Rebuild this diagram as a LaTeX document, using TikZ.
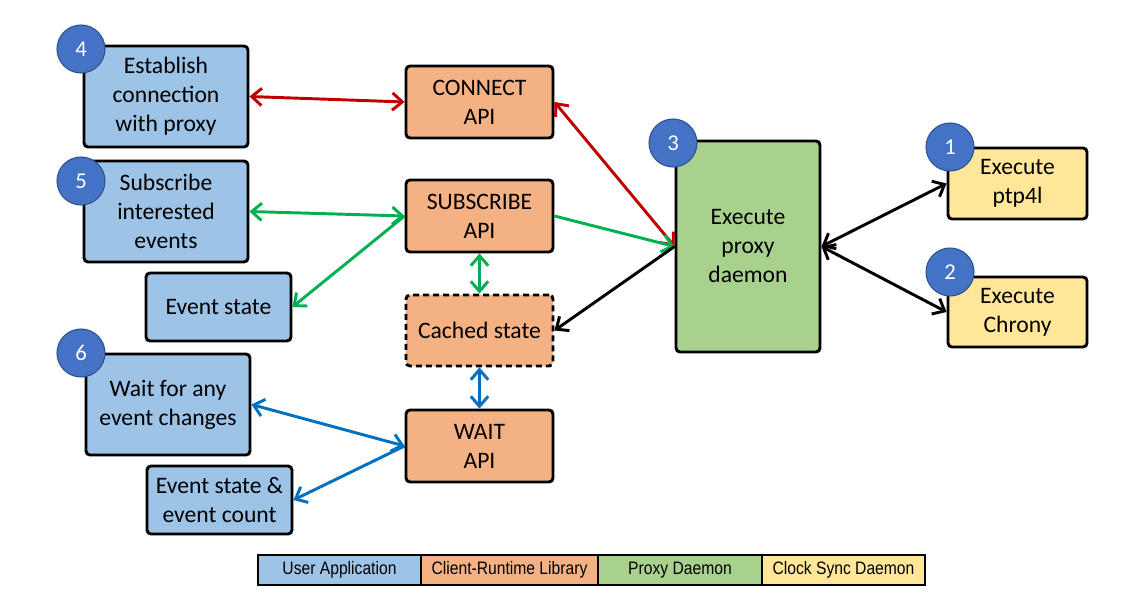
\documentclass[tikz,border=0pt]{standalone}
\usepackage{fontspec}
\setmainfont{Carlito}
\newfontfamily\legfont{Liberation Sans}[FakeStretch=0.87]
\usetikzlibrary{arrows.meta}
\definecolor{ublue}{HTML}{9DC3E6}
\definecolor{uorange}{HTML}{F4B183}
\definecolor{ugreen}{HTML}{A9D18E}
\definecolor{uyellow}{HTML}{FFE699}
\definecolor{cfill}{HTML}{4472C4}
\definecolor{cline}{HTML}{2F528F}
\definecolor{ared}{HTML}{C00000}
\definecolor{agreen}{HTML}{00B050}
\definecolor{ablue}{HTML}{0070C0}
\tikzset{
  box/.style={draw=black, line width=2.2pt, rounded corners=3pt, align=center,
    font=\fontsize{17.7}{21.75}\selectfont, inner sep=0pt},
  bigbox/.style={box, minimum width=123pt, minimum height=75.75pt},
  smallbox/.style={box, minimum width=108.75pt, minimum height=51pt},
  apibox/.style={box, fill=uorange, minimum width=110.25pt, minimum height=54pt},
  numc/.style={circle, fill=cfill, draw=cline, line width=0.8pt, minimum size=36pt,
    inner sep=0pt, text=white, font=\fontsize{17}{19}\selectfont},
  legcell/.style={draw=black, line width=1.6pt, minimum height=22.5pt, inner sep=0pt,
    font=\legfont\fontsize{13.5}{15}\selectfont},
  conn/.style={line width=2.2pt},
  tip/.tip={Straight Barb[length=7.5pt,width=13pt]},
  both/.style={conn, {tip}-{tip}},
  one/.style={conn, -{tip}}
}
\begin{document}
\begin{tikzpicture}[x=0.75pt,y=-0.75pt]
\useasboundingbox[fill=white] (0,0) rectangle (1148,616);
% user application boxes
\node[bigbox, fill=ublue] (b4) at (166,96.5) {Establish\\connection\\with proxy};
\node[bigbox, fill=ublue] (b5) at (166,211.5) {Subscribe\\interested\\events};
\node[smallbox, fill=ublue] (ev) at (218.5,307) {Event state};
\node[bigbox, fill=ublue] (b6) at (168,404.5) {Wait for any\\event changes};
\node[smallbox, fill=ublue] (evc) at (219.5,500) {Event state \&\\event count};
% library boxes
\node[apibox] (con) at (479.5,102) {CONNECT\\API};
\node[apibox] (sub) at (479.5,216) {SUBSCRIBE\\API};
\node[apibox, dashed, dash pattern=on 4.5pt off 3pt, minimum height=53.25pt] (cache) at (479.5,330.5) {Cached state};
\node[apibox] (wait) at (479.5,446) {WAIT\\API};
% proxy
\node[box, fill=ugreen, minimum width=108pt, minimum height=158.25pt] (proxy) at (748,246.5) {Execute\\proxy\\daemon};
% clock sync
\node[box, fill=uyellow, minimum width=104.25pt, minimum height=53.25pt] (ptp) at (1017.5,183.5) {Execute\\ptp4l};
\node[box, fill=uyellow, minimum width=104.25pt, minimum height=52.5pt] (chr) at (1017.5,312) {Execute\\Chrony};
% number circles
\node[numc] (c4) at (81,49) {4};
\node[numc] (c5) at (81,181) {5};
\node[numc] (c6) at (81,353) {6};
\node[numc] (c3) at (673,143) {3};
\node[numc] (c1) at (950,147) {1};
\node[numc] (c2) at (950,272) {2};
% connectors
\draw[both, ared] (b4.east) -- (con.west);
\draw[both, ared] (con.east) -- (proxy.west);
\draw[both, agreen] (b5.east) -- (sub.west);
\draw[one, agreen] (sub.west) -- (ev.east);
\draw[one, agreen] (sub.east) -- (proxy.west);
\draw[both, agreen] (sub.south) -- (cache.north);
\draw[one, black] (proxy.west) -- (cache.east);
\draw[both, ablue] (cache.south) -- (wait.north);
\draw[both, ablue] (b6.east) -- (wait.west);
\draw[one, ablue] (wait.west) -- (evc.east);
\draw[both, black] (proxy.east) -- (ptp.west);
\draw[both, black] (proxy.east) -- (chr.west);
% legend
\node[legcell, fill=ublue, minimum width=122.25pt] (l1) at (339.5,570) {User Application};
\node[legcell, fill=uorange, minimum width=132.75pt] (l2) at (509.5,570) {Client-Runtime Library};
\node[legcell, fill=ugreen, minimum width=123pt] (l3) at (680,570) {Proxy Daemon};
\node[legcell, fill=uyellow, minimum width=122.25pt] (l4) at (843.5,570) {Clock Sync Daemon};
\end{tikzpicture}
\end{document}
